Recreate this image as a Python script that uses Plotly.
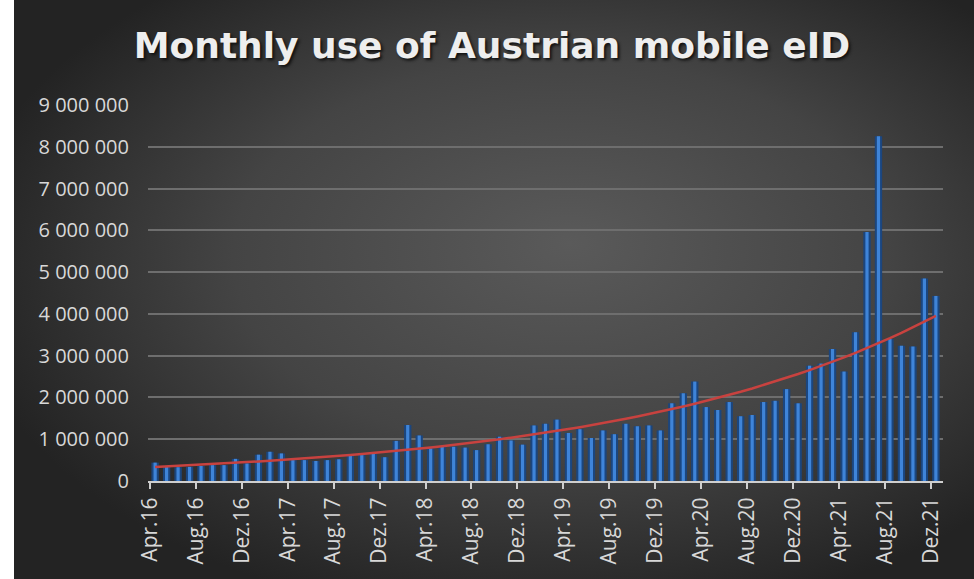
import base64
import numpy as np
import plotly.graph_objects as go

# ---- data (monthly uses, Apr 2016 .. Dec 2021) ----
months = ["Apr.16", "Mai.16", "Jun.16", "Jul.16", "Aug.16", "Sep.16", "Okt.16", "Nov.16", "Dez.16",
          "Jän.17", "Feb.17", "Mär.17", "Apr.17", "Mai.17", "Jun.17", "Jul.17", "Aug.17", "Sep.17",
          "Okt.17", "Nov.17", "Dez.17", "Jän.18", "Feb.18", "Mär.18", "Apr.18", "Mai.18", "Jun.18",
          "Jul.18", "Aug.18", "Sep.18", "Okt.18", "Nov.18", "Dez.18", "Jän.19", "Feb.19", "Mär.19",
          "Apr.19", "Mai.19", "Jun.19", "Jul.19", "Aug.19", "Sep.19", "Okt.19", "Nov.19", "Dez.19",
          "Jän.20", "Feb.20", "Mär.20", "Apr.20", "Mai.20", "Jun.20", "Jul.20", "Aug.20", "Sep.20",
          "Okt.20", "Nov.20", "Dez.20", "Jän.21", "Feb.21", "Mär.21", "Apr.21", "Mai.21", "Jun.21",
          "Jul.21", "Aug.21", "Sep.21", "Okt.21", "Nov.21", "Dez.21"]
uses = [440000, 340000, 330000, 340000, 360000, 380000, 380000, 530000, 420000,
        630000, 700000, 660000, 500000, 500000, 480000, 500000, 520000, 600000,
        620000, 650000, 570000, 960000, 1340000, 1090000, 780000, 820000, 820000,
        800000, 740000, 880000, 1060000, 970000, 870000, 1330000, 1370000, 1470000,
        1150000, 1240000, 1030000, 1210000, 1120000, 1370000, 1310000, 1330000, 1210000,
        1860000, 2100000, 2380000, 1770000, 1700000, 1890000, 1550000, 1580000, 1890000,
        1920000, 2200000, 1860000, 2760000, 2810000, 3160000, 2620000, 3560000, 5960000,
        8250000, 3400000, 3240000, 3220000, 4850000, 4430000]
tick_labels = ["Apr.16", "Aug.16", "Dez.16", "Apr.17", "Aug.17", "Dez.17", "Apr.18", "Aug.18",
               "Dez.18", "Apr.19", "Aug.19", "Dez.19", "Apr.20", "Aug.20", "Dez.20", "Apr.21",
               "Aug.21", "Dez.21"]
y_ticks = [0, 1000000, 2000000, 3000000, 4000000, 5000000, 6000000, 7000000, 8000000, 9000000]
title = "Monthly use of Austrian mobile eID"

x = np.arange(len(uses))
# exponential trend line (least squares on log values, like a spreadsheet trendline)
b, ln_a = np.polyfit(x, np.log(np.array(uses, dtype=float)), 1)
trend = np.exp(ln_a + b * x)

tick_pos = [months.index(t) - 0.45 for t in tick_labels]

W, H = 974, 579
ML, MR, MT, MB = 148, 31, 105, 98
PW, PH = W - ML - MR, H - MT - MB

svg = f'''<svg xmlns="http://www.w3.org/2000/svg" width="960" height="579" preserveAspectRatio="none">
<defs><radialGradient id="g" cx="0.56" cy="0.46" r="0.62" fx="0.58" fy="0.42">
<stop offset="0" stop-color="#5a5a5a"/><stop offset="0.55" stop-color="#444444"/>
<stop offset="1" stop-color="#232323"/></radialGradient></defs>
<rect x="0" y="0" width="960" height="579" fill="url(#g)"/></svg>'''
src = "data:image/svg+xml;base64," + base64.b64encode(svg.encode()).decode()

fig = go.Figure()
fig.add_trace(go.Bar(x=x, y=uses, width=0.64, marker=dict(color="#1b467f", line=dict(width=0)),
                     hoverinfo="skip", showlegend=False))
fig.add_trace(go.Bar(x=x, y=uses, width=0.28, marker=dict(color="#3f84d8", line=dict(width=0)),
                     showlegend=False))
fig.add_trace(go.Scatter(x=x, y=trend, mode="lines", line=dict(color="#c8423f", width=2.5),
                         showlegend=False))

fig.update_layout(
    width=W, height=H,
    margin=dict(l=ML, r=MR, t=MT, b=MB),
    barmode="overlay",
    paper_bgcolor="white",
    plot_bgcolor="rgba(0,0,0,0)",
    separators=", ",
    font=dict(family="Open Sans, Lato, sans-serif", color="#d8d8d8"),
    title=dict(text="<b>" + title + "</b>", x=0.505, xref="container", xanchor="center",
               y=1 - 45 / H, yanchor="middle",
               font=dict(size=36, color="#eeeeee", family="DejaVu Sans, sans-serif",
                         shadow="2px 2px 3px #111111")),
    images=[dict(source=src, xref="paper", yref="paper",
                 x=(14 - ML) / PW, y=1 + MT / PH, sizex=(W - 14) / PW, sizey=H / PH,
                 xanchor="left", yanchor="top", sizing="stretch", layer="below")],
    xaxis=dict(range=[-0.62, 68.62], tickmode="array", tickvals=tick_pos, ticktext=tick_labels,
               tickangle=-90, ticks="outside", ticklen=6, tickcolor="#cfcfcf", tickwidth=1.5,
               showline=True, linecolor="#cfcfcf", linewidth=2, showgrid=False, zeroline=False,
               tickfont=dict(size=21, color="#d8d8d8")),
    yaxis=dict(range=[0, 9000000], tickmode="array", tickvals=y_ticks, tickformat=",d",
               showgrid=True, gridcolor="#6e6e6e", gridwidth=1.5, zeroline=False,
               showline=False, ticks="", ticklabelstandoff=18,
               tickfont=dict(size=20, color="#d8d8d8")),
)

fig.write_html("out.html", config={"displayModeBar": False},
               post_script="document.body.style.margin='0';document.body.style.overflow='hidden';")
